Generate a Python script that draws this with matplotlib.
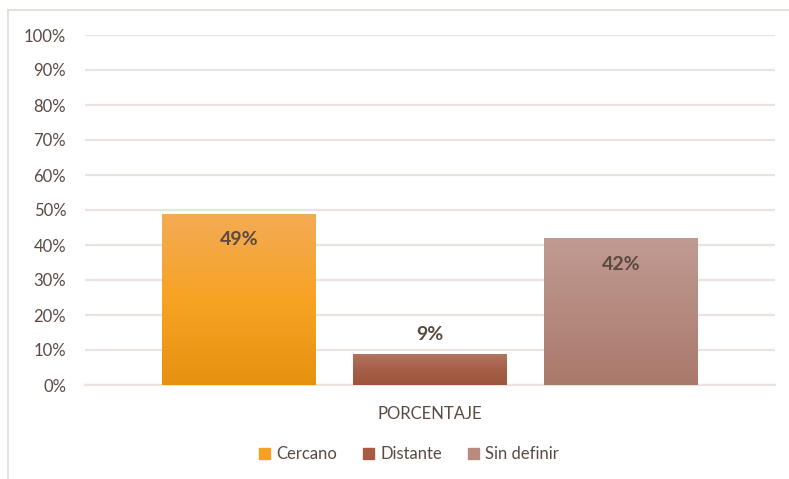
import matplotlib
matplotlib.use("Agg")
import matplotlib.pyplot as plt
import numpy as np
from matplotlib.patches import Rectangle
from matplotlib.colors import LinearSegmentedColormap

categories = ["Cercano", "Distante", "Sin definir"]
values = [49, 9, 42]
group_label = "PORCENTAJE"
yticks = [0, 10, 20, 30, 40, 50, 60, 70, 80, 90, 100]
ytick_labels = [f"{v}%" for v in yticks]

# gradient colors (top, middle, bottom)
grads = [
    ["#F3AB55", "#F7A325", "#E6910F"],
    ["#B27560", "#A6604A", "#9D5438"],
    ["#C19A92", "#B58A7F", "#A9796B"],
]
legend_colors = ["#F5A020", "#A65B42", "#B88A80"]

plt.rcParams['font.family'] = ['Lato', 'DejaVu Sans']
text_color = "#5A4A42"
grid_color = "#EBE3DF"

fig = plt.figure(figsize=(7.89, 4.79), dpi=100)
W, H = 789, 479
ax = fig.add_axes([85 / W, 1 - 385 / H, (775 - 85) / W, (385 - 35) / H])

x = np.arange(len(values))
width = 0.806
bars = ax.bar(x, values, width=width, color=legend_colors, zorder=2, label=None)

for b, g in zip(bars, grads):
    cmap = LinearSegmentedColormap.from_list("g", g[::-1])
    grad = np.linspace(0, 1, 256).reshape(-1, 1)
    im = ax.imshow(grad, cmap=cmap, aspect="auto", origin="lower",
                   extent=[b.get_x(), b.get_x() + b.get_width(), 0, b.get_height()],
                   zorder=3)
    im.set_clip_path(b)

# data labels
label_offsets = [-7.5, 5.5, -7.5]
for xi, v, off in zip(x, values, label_offsets):
    ax.text(xi, v + off, f"{v}%", ha="center", va="center", fontsize=14,
            fontweight="bold", color=text_color, zorder=5)

ax.set_xlim(-0.806, 2.806)
ax.set_ylim(0, 100)
ax.set_yticks(yticks)
ax.set_yticklabels(ytick_labels)
ax.set_xticks([1])
ax.set_xticklabels([group_label])
ax.tick_params(axis="both", length=0, labelsize=12, colors=text_color)
ax.tick_params(axis="y", pad=13.5)
ax.tick_params(axis="x", pad=15)
ax.yaxis.grid(True, color=grid_color, linewidth=1.6, zorder=0)
ax.set_axisbelow(True)
for s in ["top", "right", "left"]:
    ax.spines[s].set_visible(False)
ax.spines["bottom"].set_color(grid_color)
ax.spines["bottom"].set_linewidth(1.6)
ax.set_facecolor("none")

# legend
handles = [Rectangle((0, 0), 1, 1, color=c) for c in legend_colors]
fig.legend(handles, categories, loc="center", bbox_to_anchor=(409 / W, 1 - 454 / H),
           ncol=3, frameon=False, fontsize=12, handlelength=0.65, handleheight=0.65,
           handletextpad=0.35, columnspacing=1.6, labelcolor=text_color)

# outer border
fig.patches.append(Rectangle((8 / W, -0.1), 1.2, 1.1 - 10 / H + 0.0,
                             transform=fig.transFigure, fill=False,
                             edgecolor="#E3DAD6", linewidth=1.2))

fig.savefig("out.png", dpi=100)
